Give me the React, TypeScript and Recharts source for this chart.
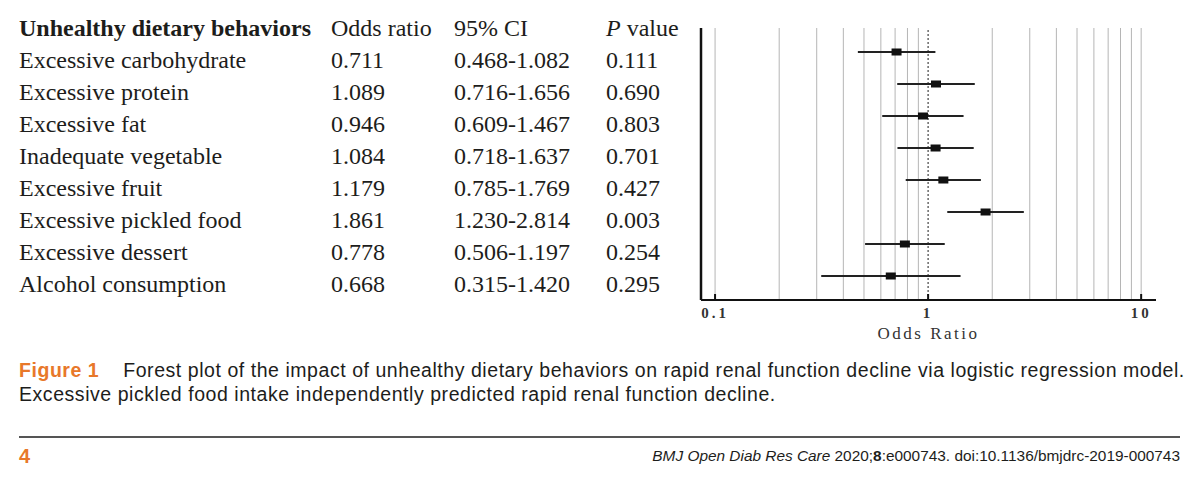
import { ComposedChart, Scatter, ErrorBar, XAxis, YAxis, ReferenceLine } from 'recharts';

const behaviors = [
  'Excessive carbohydrate',
  'Excessive protein',
  'Excessive fat',
  'Inadequate vegetable',
  'Excessive fruit',
  'Excessive pickled food',
  'Excessive dessert',
  'Alcohol consumption',
];
const oddsRatios = [0.711, 1.089, 0.946, 1.084, 1.179, 1.861, 0.778, 0.668];
const ciLower = [0.468, 0.716, 0.609, 0.718, 0.785, 1.23, 0.506, 0.315];
const ciUpper = [1.082, 1.656, 1.467, 1.637, 1.769, 2.814, 1.197, 1.42];
const pValues = [0.111, 0.69, 0.803, 0.701, 0.427, 0.003, 0.254, 0.295];

const xTicks = [0.1, 1, 10];
const gridValues = [0.1, 0.2, 0.3, 0.4, 0.5, 0.6, 0.7, 0.8, 0.9, 2, 3, 4, 5, 6, 7, 8, 9, 10];
const rowTicks = behaviors.map((_, i) => i);

const rows = behaviors.map((name, i) => ({
  row: i,
  name,
  or: oddsRatios[i],
  err: [oddsRatios[i] - ciLower[i], ciUpper[i] - oddsRatios[i]],
}));

const COLS = [19, 331, 454, 606];
const SERIF = '"Liberation Serif", "Times New Roman", serif';
const SANS = '"Liberation Sans", Arial, Helvetica, sans-serif';
const ORANGE = '#e8782a';
const INK = '#1d1d1b';

// table rows are drawn as the y axis ticks so they line up with the plot rows
const TableTick = (props: any) => {
  const i = props.payload.value;
  const cells = [
    behaviors[i],
    oddsRatios[i].toFixed(3),
    `${ciLower[i].toFixed(3)}-${ciUpper[i].toFixed(3)}`,
    pValues[i].toFixed(3),
  ];
  return (
    <g>
      {cells.map((c, k) => (
        <text key={k} x={COLS[k]} y={props.y + 16} fontFamily={SERIF} fontSize={24} fill={INK}>
          {c}
        </text>
      ))}
    </g>
  );
};

const OddsTick = (props: any) => (
  <g>
    <line x1={props.x} x2={props.x} y1={props.y - 6} y2={props.y} stroke="#111" strokeWidth={2} />
    <text
      x={props.x}
      y={props.y + 18}
      textAnchor="middle"
      fontFamily={SERIF}
      fontWeight="bold"
      fontSize={15}
      letterSpacing={3}
      fill="#333"
    >
      {props.payload.value}
    </text>
  </g>
);

const Box = (props: any) => (
  <rect x={props.cx - 5} y={props.cy - 3.5} width={10} height={7} fill="#111" />
);

export default function App() {
  return (
    <div style={{ position: 'absolute', left: 0, top: 0, width: 1200, height: 485, background: '#fff' }}>
      <svg width={700} height={50} style={{ position: 'absolute', left: 0, top: 0 }}>
        <text x={COLS[0]} y={36} fontFamily={SERIF} fontSize={24} fontWeight="bold" fill={INK}>
          Unhealthy dietary behaviors
        </text>
        <text x={COLS[1]} y={36} fontFamily={SERIF} fontSize={24} fill={INK}>Odds ratio</text>
        <text x={COLS[2]} y={36} fontFamily={SERIF} fontSize={24} fill={INK}>95% CI</text>
        <text x={COLS[3]} y={36} fontFamily={SERIF} fontSize={24} fill={INK}>
          <tspan fontStyle="italic">P</tspan>
          <tspan dx={6}>value</tspan>
        </text>
      </svg>

      <div style={{ position: 'absolute', left: 0, top: 0 }}>
        <ComposedChart width={1200} height={360} data={rows} margin={{ top: 28, right: 44, bottom: 18, left: 0 }}>
          <XAxis
            dataKey="or"
            type="number"
            scale="log"
            domain={[0.0859, 11.74]}
            allowDataOverflow
            ticks={xTicks}
            interval={0}
            tick={<OddsTick />}
            tickLine={false}
            tickSize={0}
            tickMargin={0}
            axisLine={{ stroke: '#111', strokeWidth: 2 }}
            height={42}
            label={{
              value: 'Odds Ratio',
              position: 'insideBottom',
              offset: 3,
              fontFamily: SERIF,
              fontSize: 17,
              letterSpacing: 2.5,
              fill: '#333',
            }}
          />
          <YAxis
            dataKey="row"
            type="number"
            reversed
            domain={[-0.75, 7.75]}
            ticks={rowTicks}
            interval={0}
            width={701}
            tick={<TableTick />}
            tickLine={false}
            axisLine={{ stroke: '#111', strokeWidth: 2.5 }}
          />
          {gridValues.map((v) => (
            <ReferenceLine key={v} x={v} stroke="#b5b5b5" strokeWidth={1} />
          ))}
          <ReferenceLine x={1} stroke="#444" strokeWidth={1.2} strokeDasharray="2 2" />
          <Scatter dataKey="row" shape={<Box />} isAnimationActive={false}>
            <ErrorBar dataKey="err" direction="x" width={0} stroke="#222" strokeWidth={2} />
          </Scatter>
        </ComposedChart>
      </div>

      <div
        style={{
          position: 'absolute',
          left: 19,
          top: 358,
          width: 1180,
          fontFamily: SANS,
          fontSize: 19.5,
          letterSpacing: 0.55,
          lineHeight: '24px',
          color: INK,
          whiteSpace: 'nowrap',
        }}
      >
        <div>
          <span style={{ color: ORANGE, fontWeight: 'bold' }}>Figure 1</span>
          <span style={{ marginLeft: 24 }}>
            Forest plot of the impact of unhealthy dietary behaviors on rapid renal function decline via logistic
            regression model.
          </span>
        </div>
        <div>Excessive pickled food intake independently predicted rapid renal function decline.</div>
      </div>

      <div style={{ position: 'absolute', left: 19, top: 436, width: 1161, height: 2, background: '#555' }} />

      <div
        style={{
          position: 'absolute',
          left: 19,
          top: 444,
          fontFamily: SANS,
          fontSize: 20,
          lineHeight: '24px',
          fontWeight: 'bold',
          color: ORANGE,
        }}
      >
        4
      </div>
      <div
        style={{
          position: 'absolute',
          right: 20,
          top: 445,
          fontFamily: SANS,
          fontSize: 15.4,
          lineHeight: '22px',
          color: INK,
          whiteSpace: 'nowrap',
        }}
      >
        <i>BMJ Open Diab Res Care</i> 2020;<b>8</b>:e000743. doi:10.1136/bmjdrc-2019-000743
      </div>
    </div>
  );
}
